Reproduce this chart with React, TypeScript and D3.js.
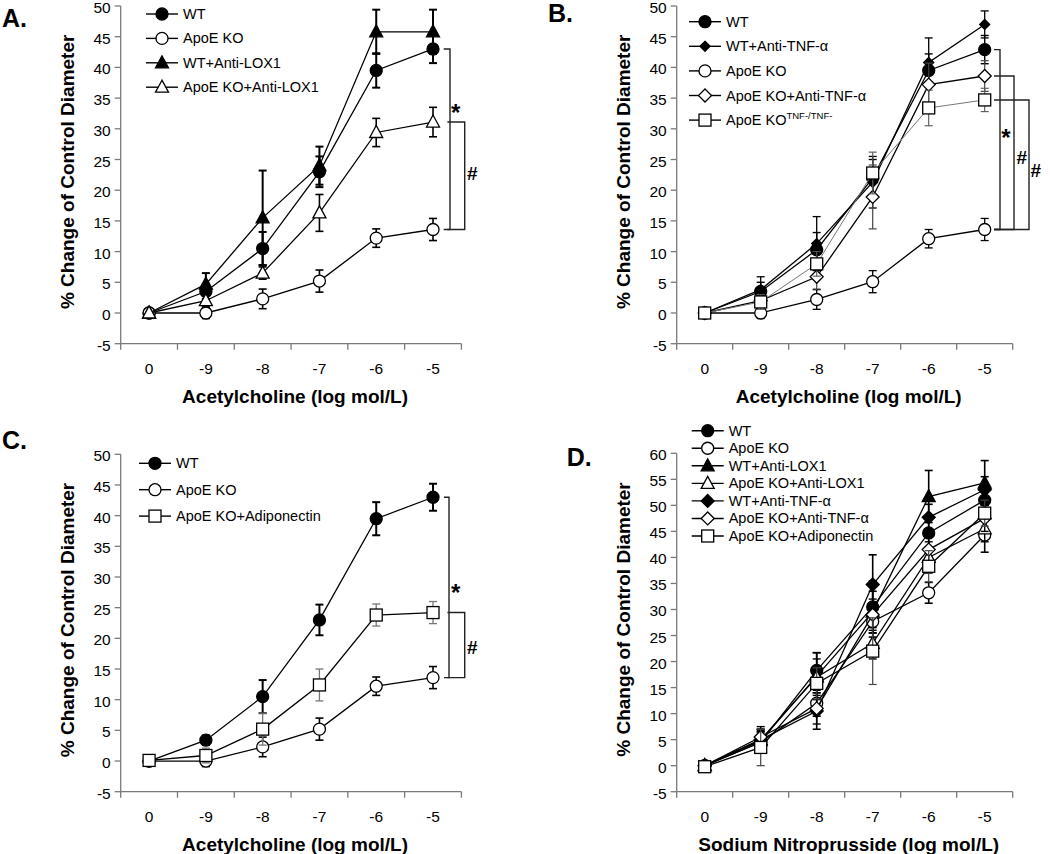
import React from "react";
import * as d3 from "d3";

const categories = ["0", "-9", "-8", "-7", "-6", "-5"];
const ticksAch = [-5, 0, 5, 10, 15, 20, 25, 30, 35, 40, 45, 50];
const ticksSnp = [-5, 0, 5, 10, 15, 20, 25, 30, 35, 40, 45, 50, 55, 60];

// Panel A
const aWT = [0, 3.5, 10.5, 23, 39.5, 43];
const aWTErr = [0.3, 1.2, 2.7, 2.5, 2.8, 2.3];
const aKO = [0, 0, 2.3, 5.2, 12.2, 13.6];
const aKOErr = [0.3, 0.9, 1.6, 1.8, 1.5, 1.8];
const aWTLOX = [0, 4.7, 15.5, 24, 45.8, 45.8];
const aWTLOXErr = [0, 1.8, 7.7, 3.1, 3.6, 3.6];
const aKOLOX = [0, 2, 6.5, 16.3, 29.4, 31.1];
const aKOLOXErr = [0, 1.0, 1.0, 3.0, 2.3, 2.4];

// Panel B
const bWT = [0, 3.5, 10.3, 22, 39.5, 42.9];
const bWTErr = [0, 1.5, 2.8, 3, 2.7, 2.3];
const bWTTNF = [0, 3.8, 11.3, 21.3, 40.8, 47];
const bWTTNFErr = [0, 2.1, 4.4, 4.2, 4, 2.2];
const bKO = [0, 0, 2.2, 5.1, 12.1, 13.6];
const bKOErr = [0.3, 0.9, 1.6, 1.8, 1.5, 1.8];
const bKOTNF = [0, 2, 5.9, 18.9, 37.2, 38.6];
const bKOTNFErr = [0, 1, 2, 5.2, 3.5, 2.5];
const bKOTNFko = [0, 1.8, 8, 22.8, 33.4, 34.7];
const bKOTNFkoErr = [0, 1.2, 2, 3.4, 2.9, 1.9];

// Panel C
const cWT = [0, 3.4, 10.5, 23, 39.5, 43];
const cWTErr = [0.3, 0.8, 2.7, 2.5, 2.7, 2.2];
const cKO = [0, 0, 2.3, 5.2, 12.2, 13.6];
const cKOErr = [0.3, 0.9, 1.6, 1.8, 1.5, 1.8];
const cAdipo = [0.1, 0.9, 5.2, 12.4, 23.8, 24.2];
const cAdipoErr = [0, 1.2, 2.6, 2.6, 1.8, 1.8];

// Panel D
const dWT = [0, 4.5, 18.3, 30.5, 44.7, 51];
const dWTErr = [0, 2, 3.4, 5, 2.7, 2.5];
const dKO = [0, 4.5, 12, 27.7, 33.2, 44.3];
const dKOErr = [0, 2, 2.5, 3, 2, 3.3];
const dWTLOX = [0, 4.8, 17.2, 29.5, 51.7, 54.3];
const dWTLOXErr = [0, 2, 4.5, 4, 5, 4.3];
const dKOLOX = [0, 5, 17, 23.5, 40, 45.5];
const dKOLOXErr = [0, 2, 3.5, 3, 3, 2.5];
const dWTTNF = [0, 5, 10.5, 34.8, 47.7, 53];
const dWTTNFErr = [0, 2, 3.5, 5.7, 2.5, 2.5];
const dKOTNF = [0, 5.5, 11, 29, 41.5, 47.5];
const dKOTNFErr = [0, 2, 3, 3, 2.5, 2.5];
const dAdipo = [-0.2, 3.5, 15.8, 22, 38.3, 48.5];
const dAdipoErr = [0, 3.5, 3, 6.4, 3, 2.5];

const FONT = "'Liberation Sans', Arial, Helvetica, sans-serif";
const AXIS = "#7a7a7a";

type Series = {
  name: string;
  sup?: string;
  values: number[];
  err: number[];
  marker: string;
  lineColor?: string;
  lineWidth?: number;
  errColor?: string;
  errWidth?: number;
};

function Marker({ type, cx, cy }: { type: string; cx: number; cy: number }) {
  const sw = 1.3;
  switch (type) {
    case "circleFilled":
      return <circle cx={cx} cy={cy} r={6} fill="#000" stroke="#000" strokeWidth={sw} />;
    case "circleOpen":
      return <circle cx={cx} cy={cy} r={6} fill="#fff" stroke="#000" strokeWidth={sw} />;
    case "triFilled":
    case "triOpen": {
      const pts = `${cx},${cy - 7} ${cx - 6.5},${cy + 5} ${cx + 6.5},${cy + 5}`;
      return (
        <polygon points={pts} fill={type === "triFilled" ? "#000" : "#fff"} stroke="#000" strokeWidth={sw} />
      );
    }
    case "diaFilled": {
      const h = 5;
      const pts = `${cx},${cy - h} ${cx + h},${cy} ${cx},${cy + h} ${cx - h},${cy}`;
      return <polygon points={pts} fill="#000" stroke="#000" strokeWidth={sw} />;
    }
    case "diaFilledBig": {
      const h = 6.5;
      const pts = `${cx},${cy - h} ${cx + h},${cy} ${cx},${cy + h} ${cx - h},${cy}`;
      return <polygon points={pts} fill="#000" stroke="#000" strokeWidth={sw} />;
    }
    case "diaOpen": {
      const h = 6.5;
      const pts = `${cx},${cy - h} ${cx + h},${cy} ${cx},${cy + h} ${cx - h},${cy}`;
      return <polygon points={pts} fill="#fff" stroke="#000" strokeWidth={sw} />;
    }
    case "square":
      return <rect x={cx - 6} y={cy - 6} width={12} height={12} fill="#fff" stroke="#000" strokeWidth={sw} />;
    default:
      return null;
  }
}

type Bracket = {
  top: number;
  bottom: number;
  vx: number;
  tx: number;
  label: string;
  labelY: number;
  labelX: number;
};

type PanelProps = {
  label: string;
  labelX: number;
  labelY: number;
  x0: number;
  x1: number;
  yTop: number;
  yBot: number;
  yMax: number;
  ticks: number[];
  series: Series[];
  legend: { mx: number; y0: number; dy: number };
  xTitle: string;
  brackets: Bracket[];
};

function Panel(p: PanelProps) {
  const band = d3.scaleBand<string>().domain(categories).range([p.x0, p.x1]).paddingInner(0).paddingOuter(0);
  const x = (c: string) => (band(c) as number) + band.bandwidth() / 2;
  const y = d3.scaleLinear().domain([-5, p.yMax]).range([p.yBot, p.yTop]);
  const line = d3
    .line<number>()
    .x((_, i) => x(categories[i]))
    .y((v) => y(v));
  const lastX = x(categories[categories.length - 1]);
  const cx = (p.x0 + p.x1) / 2;
  const cy = (p.yTop + p.yBot) / 2;
  const bounds = d3.range(categories.length + 1).map((i) => p.x0 + band.step() * i);

  return (
    <g>
      <text x={p.labelX} y={p.labelY} fontSize={25} fontWeight="bold" fontFamily={FONT}>
        {p.label}
      </text>
      <line x1={p.x0} x2={p.x0} y1={p.yTop} y2={p.yBot} stroke={AXIS} strokeWidth={1.3} />
      {p.ticks.map((t) => (
        <g key={t}>
          <line x1={p.x0 - 6} x2={p.x0} y1={y(t)} y2={y(t)} stroke={AXIS} strokeWidth={1.3} />
          <text
            x={p.x0 - 10}
            y={y(t) + 1.5}
            textAnchor="end"
            dominantBaseline="central"
            fontSize={15.5}
            fontFamily={FONT}
          >
            {t}
          </text>
        </g>
      ))}
      <line x1={p.x0} x2={p.x1} y1={p.yBot} y2={p.yBot} stroke={AXIS} strokeWidth={1.3} />
      {bounds.map((bx, i) => (
        <line key={i} x1={bx} x2={bx} y1={p.yBot} y2={p.yBot + 6} stroke={AXIS} strokeWidth={1.3} />
      ))}
      {categories.map((c) => (
        <text key={c} x={x(c)} y={p.yBot + 30} textAnchor="middle" fontSize={15.5} fontFamily={FONT}>
          {c}
        </text>
      ))}
      <text x={cx + 4} y={p.yBot + 59} textAnchor="middle" fontSize={19} fontWeight="bold" fontFamily={FONT}>
        {p.xTitle}
      </text>
      <text
        transform={`translate(${p.x0 - 53},${cy - 3}) rotate(-90)`}
        textAnchor="middle"
        dominantBaseline="central"
        fontSize={19}
        fontWeight="bold"
        fontFamily={FONT}
      >
        % Change of Control Diameter
      </text>

      {p.brackets.map((b, i) => {
        const vx = lastX + b.vx;
        const tx = lastX + b.tx;
        const yt = y(b.top);
        const yb = y(b.bottom);
        return (
          <g key={i}>
            <path d={`M${tx},${yt} H${vx} V${yb} H${tx}`} fill="none" stroke="#222" strokeWidth={1.4} />
            <text
              x={lastX + b.labelX}
              y={y(b.labelY) + (b.label === "*" ? 4 : 0)}
              textAnchor="middle"
              dominantBaseline="central"
              fontSize={b.label === "*" ? 24 : 19}
              fontWeight="bold"
              fontFamily={FONT}
            >
              {b.label}
            </text>
          </g>
        );
      })}

      {p.series.map((s, si) => (
        <g key={si}>
          {s.values.map((v, i) =>
            s.err[i] > 0 ? (
              <g key={i} stroke={s.errColor || "#000"} strokeWidth={s.errWidth || 1.4}>
                <line x1={x(categories[i])} x2={x(categories[i])} y1={y(v - s.err[i])} y2={y(v + s.err[i])} />
                <line x1={x(categories[i]) - 4} x2={x(categories[i]) + 4} y1={y(v - s.err[i])} y2={y(v - s.err[i])} />
                <line x1={x(categories[i]) - 4} x2={x(categories[i]) + 4} y1={y(v + s.err[i])} y2={y(v + s.err[i])} />
              </g>
            ) : null
          )}
          <path d={line(s.values) || ""} fill="none" stroke={s.lineColor || "#000"} strokeWidth={s.lineWidth || 1.3} />
          {s.values.map((v, i) => (
            <Marker key={i} type={s.marker} cx={x(categories[i])} cy={y(v)} />
          ))}
        </g>
      ))}

      {p.series.map((s, si) => {
        const ly = p.legend.y0 + si * p.legend.dy;
        return (
          <g key={"lg" + si}>
            <line x1={p.legend.mx - 16} x2={p.legend.mx + 16} y1={ly} y2={ly} stroke="#000" strokeWidth={1.4} />
            <Marker type={s.marker} cx={p.legend.mx} cy={ly} />
            <text x={p.legend.mx + 21} y={ly} dominantBaseline="central" fontSize={14.5} fontFamily={FONT}>
              {s.name}
              {s.sup ? (
                <tspan fontSize={9.5} dy={-5}>
                  {s.sup}
                </tspan>
              ) : null}
            </text>
          </g>
        );
      })}
    </g>
  );
}

const seriesA: Series[] = [
  { name: "WT", values: aWT, err: aWTErr, marker: "circleFilled", errWidth: 2 },
  { name: "ApoE KO", values: aKO, err: aKOErr, marker: "circleOpen", errWidth: 1.6 },
  { name: "WT+Anti-LOX1", values: aWTLOX, err: aWTLOXErr, marker: "triFilled", errWidth: 2 },
  { name: "ApoE KO+Anti-LOX1", values: aKOLOX, err: aKOLOXErr, marker: "triOpen", errWidth: 1.6 },
];

const seriesB: Series[] = [
  { name: "WT", values: bWT, err: bWTErr, marker: "circleFilled", errWidth: 1.4 },
  { name: "WT+Anti-TNF-\u03b1", values: bWTTNF, err: bWTTNFErr, marker: "diaFilled", errWidth: 1.3 },
  { name: "ApoE KO", values: bKO, err: bKOErr, marker: "circleOpen", errWidth: 1.3 },
  { name: "ApoE KO+Anti-TNF-\u03b1", values: bKOTNF, err: bKOTNFErr, marker: "diaOpen", errWidth: 1.2, errColor: "#444" },
  {
    name: "ApoE KO",
    sup: "TNF-/TNF-",
    values: bKOTNFko,
    err: bKOTNFkoErr,
    marker: "square",
    lineColor: "#777",
    lineWidth: 1,
    errColor: "#555",
    errWidth: 1.1,
  },
];

const seriesC: Series[] = [
  { name: "WT", values: cWT, err: cWTErr, marker: "circleFilled", errWidth: 2 },
  { name: "ApoE KO", values: cKO, err: cKOErr, marker: "circleOpen", errWidth: 1.6 },
  { name: "ApoE KO+Adiponectin", values: cAdipo, err: cAdipoErr, marker: "square", errColor: "#777", errWidth: 1.3 },
];

const seriesD: Series[] = [
  { name: "WT", values: dWT, err: dWTErr, marker: "circleFilled", errWidth: 1.6 },
  { name: "ApoE KO", values: dKO, err: dKOErr, marker: "circleOpen", errWidth: 1.6 },
  { name: "WT+Anti-LOX1", values: dWTLOX, err: dWTLOXErr, marker: "triFilled", errWidth: 1.6 },
  { name: "ApoE KO+Anti-LOX1", values: dKOLOX, err: dKOLOXErr, marker: "triOpen", errWidth: 1.4 },
  { name: "WT+Anti-TNF-\u03b1", values: dWTTNF, err: dWTTNFErr, marker: "diaFilledBig", errWidth: 1.6 },
  { name: "ApoE KO+Anti-TNF-\u03b1", values: dKOTNF, err: dKOTNFErr, marker: "diaOpen", errWidth: 1.4 },
  { name: "ApoE KO+Adiponectin", values: dAdipo, err: dAdipoErr, marker: "square", errColor: "#444", errWidth: 1.2 },
];

export default function App() {
  const last = categories.length - 1;
  return (
    <svg
      width={1050}
      height={854}
      style={{ position: "absolute", left: 0, top: 0, background: "#fff" }}
      fontFamily={FONT}
    >
      <rect width={1050} height={854} fill="#fff" />
      <Panel
        label="A."
        labelX={2}
        labelY={27}
        x0={120.7}
        x1={461.4}
        yTop={6}
        yBot={343.7}
        yMax={50}
        ticks={ticksAch}
        series={seriesA}
        legend={{ mx: 162, y0: 14, dy: 24.4 }}
        xTitle="Acetylcholine (log mol/L)"
        brackets={[
          { top: aWT[last], bottom: aKO[last], vx: 17, tx: 10.7, label: "*", labelY: 33.3, labelX: 22.7 },
          { top: aKOLOX[last], bottom: aKO[last], vx: 31.7, tx: 14.4, label: "#", labelY: 22.7, labelX: 39.4 },
        ]}
      />
      <Panel
        label="B."
        labelX={548}
        labelY={22}
        x0={676.7}
        x1={1012.7}
        yTop={6}
        yBot={343.7}
        yMax={50}
        ticks={ticksAch}
        series={seriesB}
        legend={{ mx: 705, y0: 21.7, dy: 24.6 }}
        xTitle="Acetylcholine (log mol/L)"
        brackets={[
          { top: bWT[last], bottom: bKO[last], vx: 15.3, tx: 9.3, label: "*", labelY: 29.2, labelX: 21.3 },
          { top: bKOTNF[last], bottom: bKO[last], vx: 29.3, tx: 9.3, label: "#", labelY: 25.3, labelX: 37 },
          { top: bKOTNFko[last], bottom: bKO[last], vx: 44.3, tx: 9.3, label: "#", labelY: 23.2, labelX: 51 },
        ]}
      />
      <Panel
        label="C."
        labelX={2}
        labelY={449}
        x0={120.7}
        x1={461.4}
        yTop={454.3}
        yBot={791.7}
        yMax={50}
        ticks={ticksAch}
        series={seriesC}
        legend={{ mx: 155, y0: 463.3, dy: 26.4 }}
        xTitle="Acetylcholine (log mol/L)"
        brackets={[
          { top: cWT[last], bottom: cKO[last], vx: 16, tx: 11, label: "*", labelY: 28.1, labelX: 22.7 },
          { top: cAdipo[last], bottom: cKO[last], vx: 31.7, tx: 14.4, label: "#", labelY: 18.5, labelX: 39.4 },
        ]}
      />
      <Panel
        label="D."
        labelX={566.7}
        labelY={466}
        x0={676.7}
        x1={1012.7}
        yTop={453.3}
        yBot={791.7}
        yMax={60}
        ticks={ticksSnp}
        series={seriesD}
        legend={{ mx: 707.7, y0: 430.7, dy: 17.55 }}
        xTitle="Sodium Nitroprusside (log mol/L)"
        brackets={[]}
      />
    </svg>
  );
}
